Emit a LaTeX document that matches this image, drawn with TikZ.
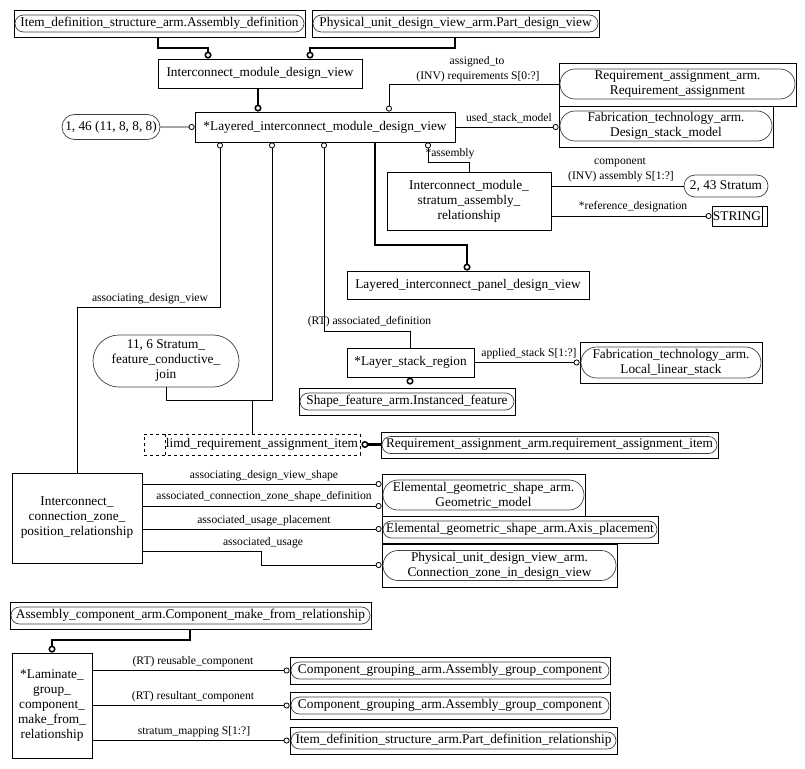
\documentclass[tikz,border=0pt]{standalone}
\usepackage{fontspec}
\setmainfont{Liberation Serif}
\usetikzlibrary{arrows.meta,shapes.misc}

\begin{document}
\begin{tikzpicture}[x=1pt, y=-1pt,
    ent/.style={draw, rectangle, inner sep=0pt, line width=0.8pt, font=\fontsize{13.3}{15}\selectfont, align=center},
    marco/.style={draw, rectangle, inner sep=0pt, line width=0.8pt},
    tipo/.style={draw=black!75, rounded rectangle, inner sep=0pt, line width=0.7pt, font=\fontsize{13.3}{15}\selectfont, align=center},
    etiq/.style={inner sep=0pt, font=\fontsize{11.6}{13}\selectfont},
    rel/.style={line width=0.8pt, -{Circle[open,length=6pt,width=6pt]}},
    sub/.style={line width=2.4pt, -{Circle[open,length=7pt,width=7pt,line width=1.5pt]}},
    subini/.style={line width=2.4pt, {Circle[open,length=7pt,width=7pt,line width=1.5pt]}-}]
    \useasboundingbox (0,0) rectangle (805,768);
    % Entidades
    \node[ent, minimum width=204pt, minimum height=29pt] (imdv) at (260,73.5) {Interconnect\_module\_design\_view};
    \node[ent, minimum width=260pt, minimum height=30pt] (limdv) at (325,127) {*Layered\_interconnect\_module\_design\_view};
    \node[ent, minimum width=164pt, minimum height=58pt] (imsar) at (469,201) {Interconnect\_module\_\\stratum\_assembly\_\\relationship};
    \node[ent, minimum width=242pt, minimum height=28pt] (lipdv) at (468,285) {Layered\_interconnect\_panel\_design\_view};
    \node[ent, minimum width=127pt, minimum height=29pt] (lsr) at (410.5,362.5) {*Layer\_stack\_region};
    \node[ent, minimum width=130pt, minimum height=90pt] (iczpr) at (77,518) {Interconnect\_\\connection\_zone\_\\position\_relationship};
    \node[ent, minimum width=80pt, minimum height=105pt] (lgcmfr) at (52,705.5) {*Laminate\_\\group\_\\component\_\\make\_from\_\\relationship};
    \node[ent, minimum width=55pt, minimum height=20pt] (string) at (739.5,216) {STRING\hspace*{5pt}};
    \draw[line width=0.8pt] ([xshift=-5pt]string.north east) -- ([xshift=-5pt]string.south east);
    \node[ent, dashed, minimum width=216pt, minimum height=21pt] (limd) at (252,444.5) {\hspace*{20pt}limd\_requirement\_assignment\_item};
    \draw[line width=0.8pt, dashed] ([xshift=22pt]limd.north west) -- ([xshift=22pt]limd.south west);
    % Tipos definidos en otras paginas
    \node[tipo, minimum width=98pt, minimum height=25pt] (p146) at (111,127) {1, 46 (11, 8, 8, 8)};
    \node[tipo, minimum width=84pt, minimum height=22pt] (st243) at (726,186) {2, 43 Stratum};
    \node[tipo, minimum width=146pt, minimum height=52pt] (sfcj) at (166,361) {11, 6 Stratum\_\\feature\_conductive\_\\join};
    % Referencias a otros esquemas
    \node[marco, minimum width=291pt, minimum height=27pt] (idaM) at (159.5,23.5) {};
    \node[tipo, minimum width=289pt, minimum height=17pt] (ida) at (159.5,23.5) {Item\_definition\_structure\_arm.Assembly\_definition};
    \node[marco, minimum width=287pt, minimum height=27pt] (pudvM) at (455.5,23.5) {};
    \node[tipo, minimum width=285pt, minimum height=17pt] (pudv) at (455.5,23.5) {Physical\_unit\_design\_view\_arm.Part\_design\_view};
    \node[marco, minimum width=237pt, minimum height=43pt] (raM) at (677.5,84.5) {};
    \node[tipo, minimum width=235pt, minimum height=30pt] (ra) at (677.5,84) {Requirement\_assignment\_arm.\\Requirement\_assignment};
    \node[marco, minimum width=214pt, minimum height=41pt] (dsmM) at (666,126.5) {};
    \node[tipo, minimum width=212pt, minimum height=30pt] (dsm) at (666,126) {Fabrication\_technology\_arm.\\Design\_stack\_model};
    \node[marco, minimum width=182pt, minimum height=41pt] (llsM) at (671,362.5) {};
    \node[tipo, minimum width=180pt, minimum height=31pt] (lls) at (671,362.5) {Fabrication\_technology\_arm.\\Local\_linear\_stack};
    \node[marco, minimum width=216pt, minimum height=27pt] (sfiM) at (407,401.5) {};
    \node[tipo, minimum width=214pt, minimum height=17pt] (sfi) at (407,401.5) {Shape\_feature\_arm.Instanced\_feature};
    \node[marco, minimum width=337pt, minimum height=26pt] (raiM) at (549.5,445) {};
    \node[tipo, minimum width=335pt, minimum height=17pt] (rai) at (549.5,445) {Requirement\_assignment\_arm.requirement\_assignment\_item};
    \node[marco, minimum width=203pt, minimum height=42pt] (gmM) at (483.5,495) {};
    \node[tipo, minimum width=201pt, minimum height=30pt] (gm) at (483.5,495) {Elemental\_geometric\_shape\_arm.\\Geometric\_model};
    \node[marco, minimum width=276pt, minimum height=27pt] (apM) at (520,529.5) {};
    \node[tipo, minimum width=274pt, minimum height=17pt] (ap) at (520,529.5) {Elemental\_geometric\_shape\_arm.Axis\_placement};
    \node[marco, minimum width=235pt, minimum height=43pt] (czdvM) at (499.5,565.5) {};
    \node[tipo, minimum width=233pt, minimum height=30pt] (czdv) at (499.5,565.5) {Physical\_unit\_design\_view\_arm.\\Connection\_zone\_in\_design\_view};
    \node[marco, minimum width=361pt, minimum height=27pt] (cmfrM) at (190.5,615.5) {};
    \node[tipo, minimum width=359pt, minimum height=17pt] (cmfr) at (190.5,615.5) {Assembly\_component\_arm.Component\_make\_from\_relationship};
    \node[marco, minimum width=320pt, minimum height=27pt] (agc1M) at (450,670.5) {};
    \node[tipo, minimum width=318pt, minimum height=17pt] (agc1) at (450,670.5) {Component\_grouping\_arm.Assembly\_group\_component};
    \node[marco, minimum width=320pt, minimum height=27pt] (agc2M) at (450,705.5) {};
    \node[tipo, minimum width=318pt, minimum height=17pt] (agc2) at (450,705.5) {Component\_grouping\_arm.Assembly\_group\_component};
    \node[marco, minimum width=327pt, minimum height=27pt] (pdrM) at (453.5,740.5) {};
    \node[tipo, minimum width=325pt, minimum height=17pt] (pdr) at (453.5,740.5) {Item\_definition\_structure\_arm.Part\_definition\_relationship};
    % Supertipos (lineas gruesas)
    \draw[sub] (idaM.south -| 158,0) |- (208,48) -- (imdv.north -| 208,0);
    \draw[sub] (pudvM.south -| 455,0) |- (310,48) -- (imdv.north -| 310,0);
    \draw[sub] (imdv.south -| 258,0) -- (limdv.north -| 258,0);
    \draw[sub] (limdv.south -| 375,0) |- (467,245) -- (lipdv.north -| 467,0);
    \coordinate (sfitop) at ([yshift=3pt]sfiM.north);
    \draw[sub] (lsr.south -| 410,0) -- (sfitop -| 410,0);
    \draw[sub] (cmfrM.south -| 190,0) |- (52,640) -- (lgcmfr.north);
    \draw[subini] ([xshift=1pt]limd.east) -- (limd.east -| raiM.west);
    % Atributos
    \draw[rel] (p146) -- (limdv);
    \draw[rel] (ra.west) -| (limdv.north -| 389,0);
    \draw[rel] (limdv.east) -- (limdv.east -| dsmM.west);
    \draw[rel] (imsar.north) |- (428,162) -- (limdv.south -| 428,0);
    \draw[line width=0.8pt] (imsar.east |- st243.west) -- (st243.west);
    \draw[rel] (imsar.east |- string.west) -- (string.west);
    \draw[rel] (iczpr.north) |- (220,307) -- (limdv.south -| 220,0);
    \coordinate (selj) at (252,400);
    \draw[rel] (limd.north) -- (selj) -| (limdv.south -| 272,0);
    \draw[line width=0.8pt] (selj) -| (sfcj.south);
    \draw[rel] (lsr.north) |- (324,331) -- (limdv.south -| 324,0);
    \draw[rel] (lsr.east) -- (lsr.east -| llsM.west);
    \draw[rel] (iczpr.east |- 0,484) -- (gmM.west |- 0,484);
    \draw[rel] (iczpr.east |- 0,506) -- (gmM.west |- 0,506);
    \draw[rel] (iczpr.east |- 0,529) -- (apM.west |- 0,529);
    \draw[rel] (iczpr.east |- 0,551) -| (261,565) -- (czdvM.west |- 0,565);
    \draw[rel] (lgcmfr.east |- agc1M.west) -- (agc1M.west);
    \draw[rel] (lgcmfr.east |- agc2M.west) -- (agc2M.west);
    \draw[rel] (lgcmfr.east |- pdrM.west) -- (pdrM.west);
    % Etiquetas
    \node[etiq] (lassig) at (477,62) {assigned\_to};
    \node[etiq] (lreq) at (478,77) {(INV) requirements S[0:?]};
    \node[etiq] (lstack) at (509,118) {used\_stack\_model};
    \node[etiq] (lasm) at (450,154) {*assembly};
    \node[etiq] (lcomp) at (620,162) {component};
    \node[etiq] (linv) at (621,177) {(INV) assembly S[1:?]};
    \node[etiq] (lref) at (633,207) {*reference\_designation};
    \node[etiq] (ladv) at (150,299) {associating\_design\_view};
    \node[etiq] (lad) at (369.5,322) {(RT) associated\_definition};
    \node[etiq] (lapp) at (529,354) {applied\_stack S[1:?]};
    \node[etiq] (ladvs) at (264,476) {associating\_design\_view\_shape};
    \node[etiq] (lczsd) at (264,497) {associated\_connection\_zone\_shape\_definition};
    \node[etiq] (lup) at (264,521) {associated\_usage\_placement};
    \node[etiq] (lu) at (263,543) {associated\_usage};
    \node[etiq] (lreu) at (193,662) {(RT) reusable\_component};
    \node[etiq] (lres) at (193,697) {(RT) resultant\_component};
    \node[etiq] (lsm) at (194,732) {stratum\_mapping S[1:?]};
\end{tikzpicture}
\end{document}
